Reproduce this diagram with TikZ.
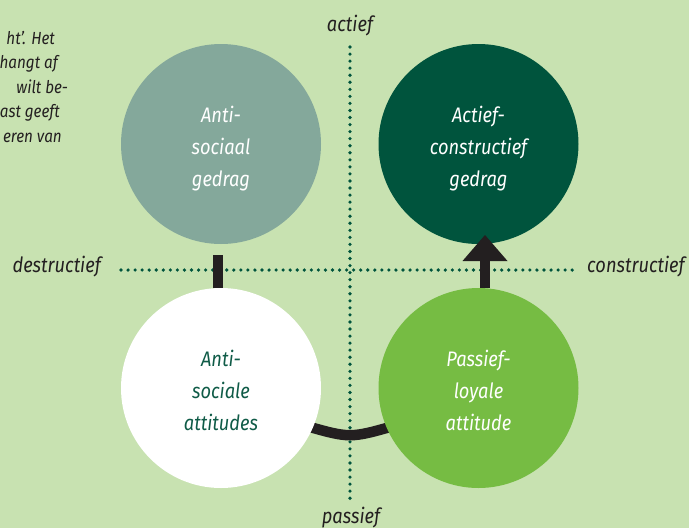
\documentclass[tikz,border=0pt]{standalone}
\usepackage{fontspec}
\setmainfont{Fira Sans}[FakeStretch=0.87]
\usetikzlibrary{calc}
\definecolor{bg}{HTML}{C8E2B1}
\definecolor{sage}{HTML}{84A89B}
\definecolor{dkgreen}{HTML}{00543D}
\definecolor{lgreen}{HTML}{76BC43}
\definecolor{txtgreen}{HTML}{0F5B47}
\definecolor{ink}{HTML}{231F20}
\newcommand\hstrut{\rule{0pt}{25pt}}
\newcommand\dstrut{\rule[-5pt]{0pt}{5pt}}
\tikzset{
  circ/.style={circle, minimum size=200pt, inner sep=0pt, align=center,
    font=\fontsize{21}{32}\selectfont\itshape},
  dotline/.style={draw=dkgreen, line width=3.6pt, line cap=round, dash pattern=on 0pt off 7.05pt},
  conn/.style={draw=ink, line width=10.5pt},
  lab/.style={inner sep=0pt, text=ink, font=\fontsize{21}{24}\selectfont\itshape},
  para/.style={inner sep=0pt, text=ink, font=\fontsize{17.5}{24}\selectfont\itshape, anchor=base east}
}
\begin{document}
\begin{tikzpicture}[x=1pt,y=-1pt]
\useasboundingbox (0,0) rectangle (689,528);
\fill[bg] (0,0) rectangle (689,528);
% axes
\coordinate (vtop) at (350,47);
\coordinate (vbot) at (350,499);
\coordinate (hl) at (121,270);
\coordinate (hr) at (573,270);
\draw[dotline] (vtop) -- (vbot);
\draw[dotline] (hl) -- (hr);
% arc connector
\coordinate (arcL) at (305,425.6);
\coordinate (arcR) at (395,425.6);
\draw[conn] (arcL) .. controls (350,438.4) .. (arcR);
% circles
\node[circ, fill=sage, text=white] (asg) at (221,144) {\hstrut Anti-\\sociaal\\gedrag\dstrut};
\node[circ, fill=dkgreen, text=white] (acg) at (478.5,144) {\hstrut Actief-\\constructief\\gedrag\dstrut};
\node[circ, fill=white, text=txtgreen] (asa) at (221,388) {\hstrut Anti-\\sociale\\attitudes\dstrut};
\node[circ, fill=lgreen, text=white] (pla) at (478.5,388) {\hstrut Passief-\\loyale\\attitude\dstrut};
% stub
\coordinate (stubtop) at (218,255);
\draw[conn] (stubtop) -- (stubtop |- asa.north);
% arrow
\coordinate (arrbase) at (485,261);
\coordinate (arrtip) at (485,235);
\draw[conn] (arrbase) -- (arrbase |- pla.north);
\fill[ink] (arrtip) -- ($(arrbase)+(-22.5,0)$) -- ($(arrbase)+(22.5,0)$) -- cycle;
% axis labels
\node[lab, anchor=base] (lact) at (350,31) {actief};
\node[lab, anchor=base] (lpas) at (351,523) {passief};
\node[lab, anchor=base east] (ldes) at (101,272) {destructief};
\node[lab, anchor=base west] (lcon) at (587,272) {constructief};
% cut-off paragraph
\node[para] (p1) at (55,44) {ht’. Het};
\node[para] (p2) at (58,68.5) {hangt af};
\node[para] (p3) at (68,93) {wilt be-};
\node[para] (p4) at (60,117.5) {ast geeft};
\node[para] (p5) at (62,142) {eren van};
\end{tikzpicture}
\end{document}
